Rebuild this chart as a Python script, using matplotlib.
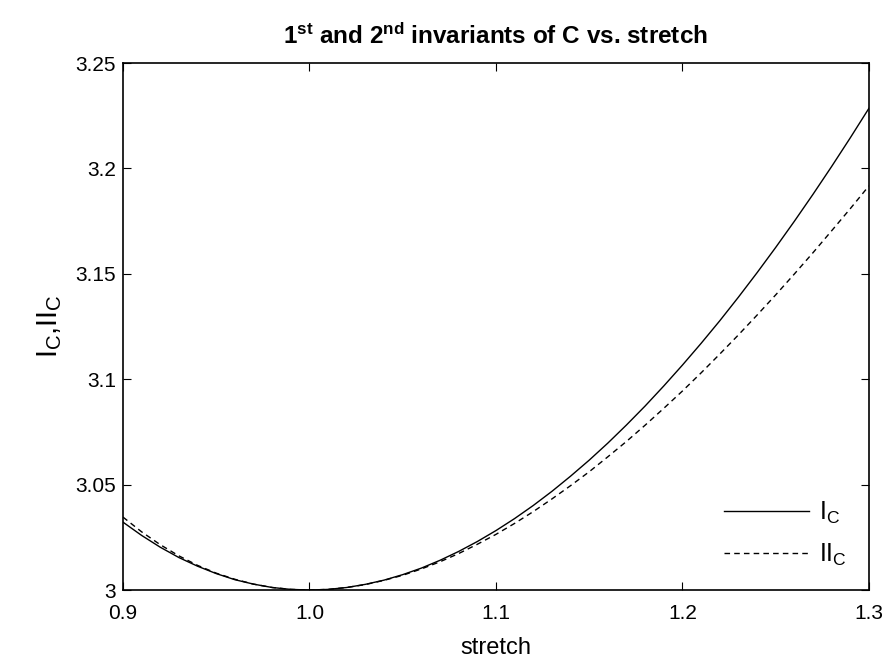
import matplotlib
matplotlib.use("Agg")
import matplotlib.pyplot as plt

plt.rcParams['font.family'] = ['Liberation Sans', 'DejaVu Sans']
plt.rcParams['mathtext.fontset'] = 'custom'
plt.rcParams['mathtext.rm'] = 'Liberation Sans'
plt.rcParams['mathtext.it'] = 'Liberation Sans'
plt.rcParams['mathtext.bf'] = 'Liberation Sans:bold'

# values
stretch = [0.90, 0.91, 0.92, 0.93, 0.94, 0.95, 0.96, 0.97, 0.98, 0.99, 1.00,
           1.01, 1.02, 1.03, 1.04, 1.05, 1.06, 1.07, 1.08, 1.09, 1.10,
           1.11, 1.12, 1.13, 1.14, 1.15, 1.16, 1.17, 1.18, 1.19, 1.20,
           1.21, 1.22, 1.23, 1.24, 1.25, 1.26, 1.27, 1.28, 1.29, 1.30]
inv1 = [3.0322, 3.0259, 3.0203, 3.0154, 3.0113, 3.0078, 3.0049, 3.0028, 3.0012, 3.0003, 3.0000,
        3.0003, 3.0012, 3.0027, 3.0047, 3.0073, 3.0104, 3.0141, 3.0183, 3.0230, 3.0282,
        3.0339, 3.0401, 3.0468, 3.0540, 3.0616, 3.0697, 3.0783, 3.0873, 3.0968, 3.1067,
        3.1170, 3.1277, 3.1389, 3.1505, 3.1625, 3.1749, 3.1877, 3.2009, 3.2145, 3.2285]
inv2 = [3.0346, 3.0276, 3.0215, 3.0162, 3.0117, 3.0080, 3.0051, 3.0028, 3.0012, 3.0003, 3.0000,
        3.0003, 3.0012, 3.0026, 3.0046, 3.0070, 3.0100, 3.0134, 3.0173, 3.0217, 3.0264,
        3.0316, 3.0372, 3.0432, 3.0495, 3.0561, 3.0632, 3.0705, 3.0782, 3.0862, 3.0944,
        3.1030, 3.1119, 3.1210, 3.1304, 3.1400, 3.1499, 3.1600, 3.1704, 3.1809, 3.1917]
xticks = [0.9, 1.0, 1.1, 1.2, 1.3]
xtick_labels = ["0.9", "1.0", "1.1", "1.2", "1.3"]
yticks = [3.0, 3.05, 3.1, 3.15, 3.2, 3.25]
ytick_labels = ["3", "3.05", "3.1", "3.15", "3.2", "3.25"]

fig = plt.figure(figsize=(8.88, 6.64), dpi=100)
ax = fig.add_axes([0.1385, 0.1114, 0.840, 0.7937])

ax.plot(stretch, inv1, color="black", lw=1.0, label=r"I$_\mathrm{C}$")
ax.plot(stretch, inv2, color="black", lw=1.0, linestyle=(0, (4, 3)), label=r"II$_\mathrm{C}$")

ax.set_xlim(0.9, 1.3)
ax.set_ylim(3.0, 3.25)
ax.set_xticks(xticks)
ax.set_xticklabels(xtick_labels)
ax.set_yticks(yticks)
ax.set_yticklabels(ytick_labels)
ax.tick_params(direction="in", top=True, right=True, labelsize=15, length=6)
ax.tick_params(axis="x", pad=10)
ax.tick_params(axis="y", pad=5)
for s in ax.spines.values():
    s.set_linewidth(1.2)

ax.set_xlabel("stretch", fontsize=17, labelpad=10)
ax.set_ylabel(r"I$_\mathrm{C}$,II$_\mathrm{C}$", fontsize=21, labelpad=8)
ax.set_title(r"1$^{\mathbf{st}}$ and 2$^{\mathbf{nd}}$ invariants of C vs. stretch",
             fontsize=17.5, fontweight="bold", pad=14)

ax.legend(loc="lower right", frameon=False, fontsize=18, handlelength=3.4,
          handletextpad=0.4, labelspacing=0.6, borderaxespad=0.5)

fig.savefig("out.png", dpi=100)
